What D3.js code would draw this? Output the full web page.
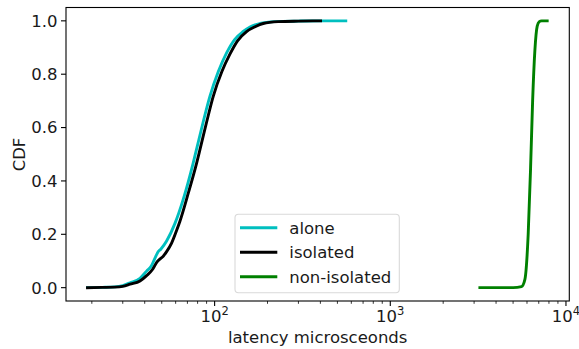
<!DOCTYPE html>
<html><head><meta charset="utf-8">
<script src="https://cdn.jsdelivr.net/npm/d3@7"></script>
<style>html,body{margin:0;padding:0;background:#fff;}svg{display:block;font-family:"DejaVu Sans",sans-serif;}</style>
</head><body>
<svg id="c" width="579" height="349"></svg>
<script>
// latency (microseconds), CDF
const aloneX = [18.9,23,27,30,33,37.6,41,43.5,45.7,47.5,49.5,53.3,59.4,66.2,75.5,79,86,94,105,117,130,145.5,160,181,220,300,400,558];
const aloneY = [0,0.001,0.003,0.008,0.018,0.035,0.062,0.08,0.11,0.133,0.145,0.175,0.24,0.33,0.467,0.52,0.62,0.717,0.81,0.88,0.93,0.96,0.978,0.99,0.997,0.999,1.0,1.0];
const isolatedX = [18.9,23,27,30,33,37.6,41,44.5,46.8,49,51,53.3,56.9,60.8,63.4,70.8,79,82.5,90,98.2,110,122,135,152,170,189,230,300,401];
const isolatedY = [0,0.001,0.002,0.005,0.013,0.025,0.045,0.07,0.095,0.108,0.118,0.135,0.167,0.215,0.248,0.354,0.467,0.517,0.62,0.717,0.81,0.874,0.925,0.96,0.978,0.99,0.997,0.999,1.0];
const nonIsolatedX = [3236,5000,5585,5834,6095,6290,6460,6655,6860,7050,7265,7820];
const nonIsolatedY = [0,0,0.004,0.03,0.2,0.45,0.70,0.89,0.98,0.997,1.0,1.0];
const seriesNames = ["alone","isolated","non-isolated"];
const seriesColors = ["#00bfbf","#000000","#008000"];
const yTicks = [0.0,0.2,0.4,0.6,0.8,1.0];
const xTickExps = [2,3,4];
const xLabel = "latency microsceonds";
const yLabel = "CDF";

const svg = d3.select("#c");
const L = 66, R = 569.3, T = 7.5, B = 301;
const x = d3.scaleLog().domain([Math.pow(10,1.154), Math.pow(10,4.019)]).range([L, R]);
const y = d3.scaleLinear().domain([-0.05, 1.05]).range([B, T]);
const FS = 16.5;

const series = [
  {x: aloneX, y: aloneY},
  {x: isolatedX, y: isolatedY},
  {x: nonIsolatedX, y: nonIsolatedY}
];
const line = d3.line().x(d => x(d[0])).y(d => y(d[1])).curve(d3.curveMonotoneX);
const clip = svg.append("defs").append("clipPath").attr("id","clp").append("rect")
  .attr("x",L).attr("y",T).attr("width",R-L).attr("height",B-T);
const g = svg.append("g").attr("clip-path","url(#clp)");
series.forEach((s,i) => {
  const pts = s.x.map((v,j) => [v, s.y[j]]);
  g.append("path").attr("d", line(pts)).attr("fill","none")
    .attr("stroke", seriesColors[i]).attr("stroke-width", 2.9)
    .attr("stroke-linecap","square").attr("stroke-linejoin","round");
});

// y axis ticks
yTicks.forEach(t => {
  svg.append("line").attr("x1",L-5).attr("x2",L).attr("y1",y(t)).attr("y2",y(t))
    .attr("stroke","#000").attr("stroke-width",1.1);
  svg.append("text").attr("x",L-8.5).attr("y",y(t)+5.9).attr("text-anchor","end")
    .attr("font-size",FS).attr("fill","#1a1a1a").text(t.toFixed(1));
});
// x axis minor ticks
const minor = [];
for (let e = 1; e <= 4; e++) for (let m = 2; m <= 9; m++) {
  const v = m*Math.pow(10,e);
  if (v >= x.domain()[0] && v <= x.domain()[1]) minor.push(v);
}
minor.forEach(v => {
  svg.append("line").attr("x1",x(v)).attr("x2",x(v)).attr("y1",B).attr("y2",B+2.8)
    .attr("stroke","#000").attr("stroke-width",0.8);
});
xTickExps.forEach(e => {
  const v = Math.pow(10,e);
  svg.append("line").attr("x1",x(v)).attr("x2",x(v)).attr("y1",B).attr("y2",B+5)
    .attr("stroke","#000").attr("stroke-width",1.1);
  const t = svg.append("text").attr("x",x(v)).attr("y",B+21.3).attr("text-anchor","middle")
    .attr("font-size",FS).attr("fill","#1a1a1a");
  t.append("tspan").text("10");
  t.append("tspan").attr("font-size",FS*0.7).attr("dy",-7).text(String(e));
});

// frame
svg.append("rect").attr("x",L).attr("y",T).attr("width",R-L).attr("height",B-T)
  .attr("fill","none").attr("stroke","#000").attr("stroke-width",1.1);

// labels
svg.append("text").attr("x",(L+R)/2).attr("y",343).attr("text-anchor","middle")
  .attr("font-size",FS).attr("fill","#1a1a1a").text(xLabel);
svg.append("text").attr("transform","translate(25,154.5) rotate(-90)").attr("text-anchor","middle")
  .attr("font-size",FS).attr("fill","#1a1a1a").text(yLabel);

// legend
const lg = svg.append("g");
lg.append("rect").attr("x",235).attr("y",214.3).attr("width",164.3).attr("height",78.4)
  .attr("rx",3.5).attr("fill","#fff").attr("fill-opacity",0.8)
  .attr("stroke","#d9d9d9").attr("stroke-width",1.1);
const rowsY = [227.7, 252.3, 276.7];
seriesNames.forEach((n,i) => {
  lg.append("line").attr("x1",240).attr("x2",277.3).attr("y1",rowsY[i]).attr("y2",rowsY[i])
    .attr("stroke",seriesColors[i]).attr("stroke-width",2.9);
  lg.append("text").attr("x",289.3).attr("y",rowsY[i]+6).attr("font-size",FS)
    .attr("fill","#1a1a1a").text(n);
});
</script>
</body></html>
